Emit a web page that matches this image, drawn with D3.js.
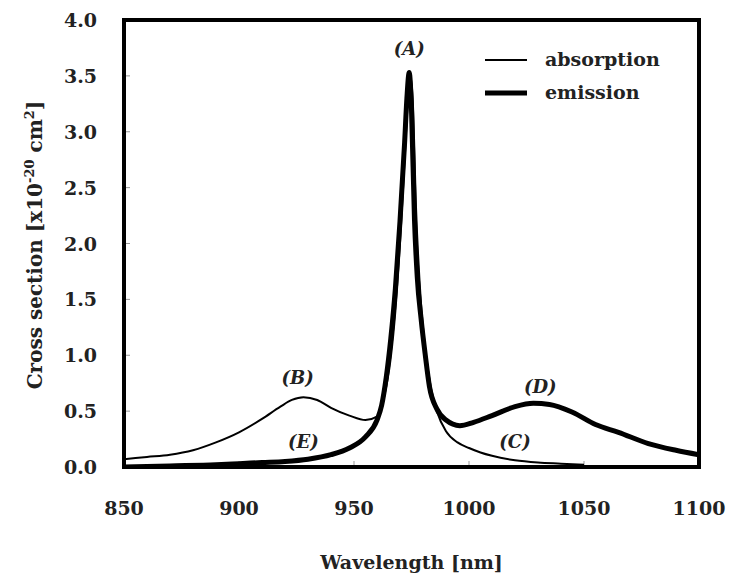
<!DOCTYPE html>
<html>
<head>
<meta charset="utf-8">
<script src="https://cdn.jsdelivr.net/npm/d3@7"></script>
<style>
  body { margin: 0; background: #fff; }
  text { font-family: "DejaVu Serif", serif; font-weight: bold; fill: #222; }
</style>
</head>
<body>
<div id="chart"></div>
<script>
// wavelength (nm) and cross section (x10^-20 cm^2)
var absWave = [850, 860, 870, 880, 890, 900, 910, 918, 923, 928, 934, 940, 948, 955, 960, 963, 966, 968, 970, 972, 973.5, 974.5, 975.5, 977, 979, 981, 983.5, 986, 990, 995, 1000, 1005, 1010, 1020, 1030, 1040, 1050];
var absVal  = [0.07, 0.09, 0.11, 0.15, 0.22, 0.31, 0.43, 0.54, 0.60, 0.625, 0.60, 0.53, 0.46, 0.42, 0.45, 0.62, 0.98, 1.4, 2.0, 2.75, 3.3, 3.5, 3.3, 2.3, 1.5, 1.05, 0.7, 0.5, 0.32, 0.22, 0.17, 0.13, 0.10, 0.06, 0.04, 0.03, 0.02];

var emWave = [850, 870, 890, 900, 910, 920, 930, 940, 948, 955, 960, 962, 964, 966, 968, 970, 972, 973, 974, 975, 976.3, 977.5, 979.2, 981, 982.8, 986, 990, 996, 1002, 1010, 1020, 1028, 1035, 1045, 1055, 1065, 1078, 1090, 1100];
var emVal  = [0.0, 0.01, 0.02, 0.03, 0.04, 0.05, 0.07, 0.11, 0.17, 0.27, 0.42, 0.55, 0.8, 1.15, 1.6, 2.2, 2.9, 3.3, 3.53, 3.2, 2.21, 1.7, 1.32, 1.0, 0.72, 0.52, 0.42, 0.37, 0.40, 0.46, 0.54, 0.57, 0.56, 0.49, 0.38, 0.31, 0.21, 0.15, 0.11];

var xTicks = [850, 900, 950, 1000, 1050, 1100];
var yTicks = [0, 0.5, 1.0, 1.5, 2.0, 2.5, 3.0, 3.5, 4.0];

var seriesNames = ["absorption", "emission"];

// peak labels: [label, wavelength, value]
var peakLabels = [
  ["(A)", 974, 3.69],
  ["(B)", 925.5, 0.74],
  ["(C)", 1020, 0.17],
  ["(D)", 1031, 0.66],
  ["(E)", 928, 0.17]
];

var width = 729, height = 575;
var plotL = 124, plotR = 699, plotT = 20, plotB = 467;

var svg = d3.select("#chart").append("svg")
  .attr("width", width)
  .attr("height", height);

var x = d3.scaleLinear().domain([850, 1100]).range([plotL, plotR]);
var y = d3.scaleLinear().domain([0, 4]).range([plotB, plotT]);

svg.append("clipPath").attr("id", "plotclip")
  .append("rect")
  .attr("x", plotL).attr("y", plotT)
  .attr("width", plotR - plotL).attr("height", plotB - plotT);

// inner tick marks
svg.selectAll("line.ytick")
  .data(yTicks.slice(1, -1))
  .enter().append("line")
  .attr("class", "ytick")
  .attr("x1", plotL).attr("x2", plotL + 6)
  .attr("y1", function (d) { return y(d); })
  .attr("y2", function (d) { return y(d); })
  .style("stroke", "#999")
  .style("stroke-width", 1);

svg.selectAll("line.xtick")
  .data(xTicks.slice(1, -1))
  .enter().append("line")
  .attr("class", "xtick")
  .attr("x1", function (d) { return x(d); })
  .attr("x2", function (d) { return x(d); })
  .attr("y1", plotB).attr("y2", plotB - 6)
  .style("stroke", "#999")
  .style("stroke-width", 1);

// tick labels
svg.selectAll("text.ylab")
  .data(yTicks)
  .enter().append("text")
  .attr("class", "ylab")
  .attr("x", 97)
  .attr("y", function (d) { return y(d) + 7; })
  .attr("text-anchor", "end")
  .style("font-size", "19px")
  .text(function (d) { return d.toFixed(1); });

svg.selectAll("text.xlab")
  .data(xTicks)
  .enter().append("text")
  .attr("class", "xlab")
  .attr("x", function (d) { return x(d); })
  .attr("y", 515)
  .attr("text-anchor", "middle")
  .style("font-size", "19px")
  .text(function (d) { return d; });

// curves
var plot = svg.append("g").attr("clip-path", "url(#plotclip)");

function pairs(w, v) {
  return w.map(function (d, i) { return [d, v[i]]; });
}

var line = d3.line()
  .x(function (d) { return x(d[0]); })
  .y(function (d) { return y(d[1]); })
  .curve(d3.curveMonotoneX);

plot.append("path")
  .datum(pairs(emWave, emVal))
  .attr("d", line)
  .style("fill", "none")
  .style("stroke", "#000")
  .style("stroke-width", 5)
  .style("stroke-linejoin", "round");

plot.append("path")
  .datum(pairs(absWave, absVal))
  .attr("d", line)
  .style("fill", "none")
  .style("stroke", "#000")
  .style("stroke-width", 2)
  .style("stroke-linejoin", "round");

// frame
svg.append("rect")
  .attr("x", plotL).attr("y", plotT)
  .attr("width", plotR - plotL).attr("height", plotB - plotT)
  .style("fill", "none")
  .style("stroke", "#000")
  .style("stroke-width", 4);

// peak labels
svg.selectAll("text.peak")
  .data(peakLabels)
  .enter().append("text")
  .attr("class", "peak")
  .attr("x", function (d) { return x(d[1]); })
  .attr("y", function (d) { return y(d[2]); })
  .attr("text-anchor", "middle")
  .style("font-size", "18px")
  .style("font-style", "italic")
  .text(function (d) { return d[0]; });

// legend
var legend = svg.selectAll("g.legend")
  .data(seriesNames)
  .enter().append("g")
  .attr("class", "legend")
  .attr("transform", function (d, i) { return "translate(485," + (60 + i * 33) + ")"; });

legend.append("line")
  .attr("x1", 0).attr("x2", 42)
  .style("stroke", "#000")
  .style("stroke-width", function (d, i) { return i == 0 ? 2 : 5; });

legend.append("text")
  .attr("x", 60).attr("y", 6)
  .style("font-size", "19px")
  .text(function (d) { return d; });

// axis titles
svg.append("text")
  .attr("x", (plotL + plotR) / 2)
  .attr("y", 569)
  .attr("text-anchor", "middle")
  .style("font-size", "19px")
  .text("Wavelength [nm]");

var yt = svg.append("text")
  .attr("transform", "translate(42,245) rotate(-90)")
  .attr("text-anchor", "middle")
  .style("font-size", "20px");
yt.append("tspan").text("Cross section [x10");
yt.append("tspan").attr("dy", -8).style("font-size", "13px").text("-20");
yt.append("tspan").attr("dy", 8).text(" cm");
yt.append("tspan").attr("dy", -8).style("font-size", "13px").text("2");
yt.append("tspan").attr("dy", 8).text("]");
</script>
</body>
</html>
